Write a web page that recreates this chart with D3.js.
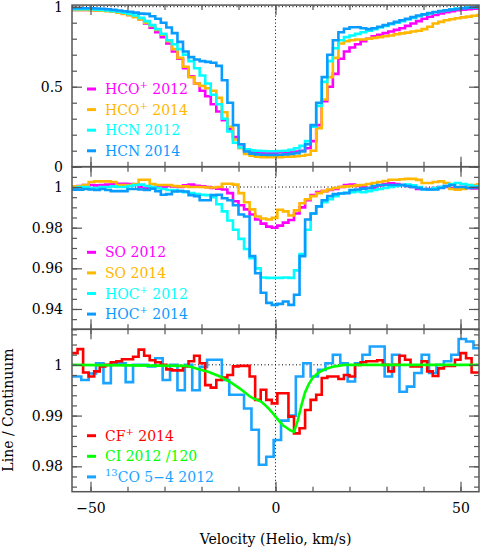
<!DOCTYPE html>
<html>
<head>
<meta charset="utf-8">
<script src="https://cdn.jsdelivr.net/npm/d3@7"></script>
<style>
  html, body { margin: 0; padding: 0; background: #fff; }
  svg { display: block; }
  text { font-family: "DejaVu Serif", serif; font-size: 14px; }
</style>
</head>
<body>
<svg id="chart" width="480" height="549"></svg>
<script>
// channel velocities (km/s), shared by the HCO+/HCN/SO/HOC+/CF+ spectra
const vel = [-55,-53.5,-52,-50.5,-49,-47.5,-46,-44.5,-43,-41.5,
  -40,-38.5,-37,-35.5,-34,-32.5,-31,-29.5,-28,-26.5,
  -25,-23.5,-22,-20.5,-19,-17.5,-16,-14.5,-13,-11.5,
  -10,-8.5,-7,-5.5,-4,-2.5,-1,0.5,2,3.5,
  5,6.5,8,9.5,11,12.5,14,15.5,17,18.5,
  20,21.5,23,24.5,26,27.5,29,30.5,32,33.5,
  35,36.5,38,39.5,41,42.5,44,45.5,47,48.5,
  50,51.5,53,54.5];

// top panel
const hco2012 = [0.979,0.979,0.979,0.979,0.978,0.977,0.975,0.972,0.965,0.957,
  0.948,0.937,0.922,0.895,0.868,0.84,0.81,0.77,0.72,0.675,
  0.615,0.565,0.52,0.475,0.44,0.39,0.345,0.29,0.235,0.185,
  0.14,0.105,0.09,0.085,0.085,0.087,0.088,0.09,0.09,0.092,
  0.095,0.1,0.115,0.16,0.26,0.41,0.5,0.58,0.675,0.72,
  0.745,0.765,0.785,0.8,0.815,0.825,0.835,0.845,0.855,0.865,
  0.88,0.895,0.91,0.925,0.937,0.948,0.958,0.965,0.972,0.978,
  0.982,0.985,0.988,0.99];
const hco2014 = [0.979,0.979,0.979,0.978,0.977,0.975,0.972,0.968,0.962,0.955,
  0.947,0.935,0.92,0.9,0.88,0.855,0.825,0.785,0.735,0.68,
  0.625,0.56,0.52,0.505,0.49,0.475,0.43,0.34,0.25,0.17,
  0.115,0.08,0.068,0.062,0.06,0.06,0.06,0.06,0.062,0.063,
  0.065,0.068,0.075,0.1,0.24,0.42,0.56,0.68,0.77,0.785,
  0.79,0.795,0.795,0.8,0.805,0.81,0.815,0.82,0.828,0.833,
  0.838,0.845,0.85,0.86,0.875,0.895,0.905,0.915,0.922,0.928,
  0.933,0.938,0.943,0.948];
const hcn2012 = [0.985,0.985,0.985,0.984,0.982,0.979,0.976,0.972,0.968,0.962,
  0.955,0.945,0.93,0.91,0.885,0.86,0.83,0.79,0.765,0.735,
  0.7,0.66,0.615,0.57,0.52,0.45,0.39,0.3,0.22,0.15,
  0.12,0.108,0.102,0.1,0.098,0.097,0.097,0.098,0.1,0.105,
  0.115,0.13,0.16,0.25,0.38,0.53,0.66,0.74,0.79,0.81,
  0.82,0.83,0.84,0.85,0.86,0.87,0.88,0.89,0.9,0.91,
  0.92,0.93,0.94,0.95,0.958,0.965,0.972,0.978,0.984,0.988,
  0.992,0.995,0.997,0.999];
const hcn2014 = [0.99,0.99,0.99,0.99,0.989,0.987,0.984,0.98,0.976,0.972,
  0.968,0.963,0.957,0.955,0.94,0.925,0.9,0.87,0.835,0.78,
  0.72,0.685,0.67,0.66,0.655,0.65,0.63,0.54,0.4,0.26,
  0.14,0.095,0.082,0.077,0.075,0.074,0.074,0.075,0.077,0.08,
  0.085,0.095,0.14,0.26,0.4,0.56,0.7,0.79,0.84,0.862,
  0.872,0.872,0.865,0.86,0.865,0.875,0.885,0.895,0.905,0.915,
  0.925,0.935,0.945,0.952,0.96,0.967,0.973,0.978,0.982,0.986,
  0.99,0.993,0.996,0.998];

// middle panel
const so2012 = [1.0003,1.0005,1.001,1.001,1.0008,1.001,1.0012,1.0015,1.0016,1.0016,
  1.0015,1.001,1.0,0.9995,1.0,1.0003,1.0,1.0005,1.0003,1.0,
  1.0008,1.0012,1.0006,1.0003,1.0,0.9995,0.9992,0.9988,0.997,0.993,
  0.991,0.989,0.9865,0.984,0.982,0.9805,0.98,0.981,0.9825,0.9838,
  0.987,0.99,0.9935,0.996,0.9975,0.998,0.9985,0.999,1.0,1.001,
  1.0012,1.0005,1.0,0.9995,0.9995,1.0008,1.0015,1.0018,1.0015,1.001,
  1.0005,1.0,0.999,0.9988,0.999,0.9995,1.0,1.0,0.9995,0.9998,
  1.0,0.9995,0.9993,0.9995];
const so2014 = [1.0003,1.0003,1.001,1.0025,1.0028,1.0028,1.0028,1.0025,1.001,1.001,
  1.001,1.0015,1.0036,1.0036,1.0015,1.001,1.001,1.001,1.0005,1.0003,
  1.0003,1.0,1.0,1.0,0.9998,0.9998,1.0,1.0016,1.0016,1.0012,
  0.997,0.9925,0.989,0.9855,0.9845,0.984,0.9848,0.9888,0.988,0.986,
  0.9885,0.992,0.994,0.9955,0.997,0.998,0.9988,0.9995,1.0,1.0003,
  1.0005,1.0008,1.001,1.0015,1.002,1.0025,1.003,1.0036,1.0036,1.0038,
  1.004,1.004,1.0035,1.002,1.002,1.0025,1.0028,1.002,0.999,0.9987,
  0.999,1.0005,1.001,1.0013];
const hoc2012 = [0.9995,1.0,1.0,0.9995,0.9995,1.0,1.0,1.0003,1.0,1.0,
  1.0005,1.001,1.0012,1.0005,1.0,0.9995,0.999,0.9985,0.9985,0.998,
  0.9975,0.997,0.9965,0.9962,0.996,0.995,0.9915,0.988,0.9835,0.979,
  0.9745,0.9695,0.965,0.96,0.9555,0.9553,0.9553,0.9553,0.9555,0.9553,
  0.959,0.967,0.979,0.987,0.9905,0.9925,0.994,0.9955,0.9968,0.9972,
  0.9975,0.9978,0.9975,0.998,0.9985,0.999,0.9995,1.0,1.0005,1.001,
  1.0012,1.0008,1.0,0.9988,0.9988,0.9995,1.0,1.0005,1.0015,1.002,
  1.0015,1.001,1.0005,1.0003];
const hoc2014 = [0.9987,0.9987,0.999,0.9988,0.9985,0.999,0.9985,0.998,0.998,0.998,
  0.999,0.999,0.9988,0.9985,0.9992,0.998,0.9962,0.9965,0.9978,0.998,
  0.9978,0.996,0.9955,0.9935,0.9935,0.996,0.9962,0.9945,0.9935,0.991,
  0.9865,0.9855,0.966,0.9576,0.948,0.943,0.942,0.9425,0.9437,0.942,
  0.947,0.966,0.984,0.987,0.9905,0.9935,0.9955,0.9965,0.9968,0.997,
  0.9985,0.9988,0.9992,0.9995,1.0005,1.001,1.001,1.001,1.001,1.001,
  1.0005,1.0,0.9995,0.999,0.9988,0.9988,0.9995,1.0005,1.001,1.0,
  1.0,0.9995,0.9998,0.9998];

// bottom panel
const cf2014 = [1.0023,1.0031,0.9985,0.9977,0.9987,0.9997,1.0,1.0005,1.0007,1.0011,
  1.0011,1.0016,1.003,1.0018,1.0009,1.0005,1.0,0.9991,0.9989,0.9989,
  0.9997,1.0007,1.0018,1.0003,0.996,0.9955,0.997,0.9975,0.998,0.9997,
  0.9998,0.9998,0.9977,0.9931,0.9951,0.9931,0.9924,0.9944,0.9944,0.9898,
  0.9865,0.9875,0.9911,0.9931,0.9941,0.9974,0.9977,0.9977,0.9972,0.998,
  0.9977,1.0,1.0005,1.0007,1.0007,1.0009,1.0,0.9987,1.0,1.0018,
  1.001,0.9997,0.9997,1.0007,0.9987,0.9978,0.9993,0.9998,0.9998,1.001,
  1.0023,1.0013,0.9985,0.9985];
const ciVel = [-55,-24,-23,-22,-21,-20,-19,-18,-17,-16,-15,-14,-13,-12,-11,-10,-9,-8,-7,-6,
  -5,-4,-3,-2,-1,0,1,2,3,4,5,6,7,8,9,10,11,12,13,14,15,16,17,18,19,55];
const ci2012 = [1.0,0.9998,0.9996,0.9994,0.9992,0.999,0.9988,0.9986,0.9983,0.998,0.9977,0.9973,0.9969,0.9965,0.996,0.9955,0.995,0.9944,0.9938,0.9934,
  0.9931,0.9928,0.9922,0.9915,0.9907,0.9898,0.9889,0.9881,0.9876,0.9871,0.9868,0.989,0.992,0.9946,0.9962,0.9974,0.9981,0.9986,0.999,0.9993,0.9995,0.9997,0.9998,0.9999,1.0,1.0];
const co13Vel = [-55,-54.5,-52.5,-50.5,-48.5,-46.5,-44.5,-42.5,-40.5,-38.5,-36.5,-34.5,-32.5,-30.5,
  -28.5,-26.5,-24.5,-22.5,-20.5,-18.5,-16.5,-14.5,-12.5,-10.5,-8.5,-6.5,-4.5,-2.5,-0.5,
  1.5,3.5,5.5,7.5,9.5,11.5,13.5,15.5,17.5,19.5,21.5,23.5,25.5,27.5,29.5,31.5,33.5,
  35.5,37.5,39.5,41.5,43.5,45.5,47.5,49.5,51.5,53.5];
const co13 = [0.9977,0.9977,0.997,0.9983,1.0003,0.9964,1.0003,1.0003,0.9966,1.0,1.0,0.9997,1.0013,0.997,
  1.0,0.995,1.0,0.995,0.9996,1.001,1.001,0.997,0.9941,0.9941,0.9914,0.9872,0.9803,0.9819,0.9852,
  0.989,0.99,0.9977,1.0003,0.9977,0.999,1.0003,1.002,1.0003,0.9967,1.0003,1.002,1.0036,1.0036,0.9977,1.002,0.9947,
  0.9957,0.9984,1.002,0.9984,1.0,1.0007,1.002,1.0051,1.0046,1.0033];

// legend labels: [text, superscript, text]
const labels1 = [["HCO","+"," 2012"],["HCO","+"," 2014"],["HCN","",  " 2012"],["HCN",""," 2014"]];
const labels2 = [["SO",""," 2012"],["SO",""," 2014"],["HOC","+"," 2012"],["HOC","+"," 2014"]];
const labels3 = [["CF","+"," 2014"],["CI",""," 2012 /120"],["","13","CO 5\u22124 2012"]];

const xTicksMajor = [-50, 0, 50];
const yTicks1 = [0, 0.5, 1];
const yTicks2 = [0.94, 0.96, 0.98, 1];
const yTicks3 = [0.98, 0.99, 1];

const colors1 = ["#ff00ff", "#ffb700", "#00ffff", "#0a9bff"];
const colors3 = ["#ff0000", "#00ff00", "#1aa3ff"];

const svg = d3.select("#chart");
const L = 72, R = 479;
const x = d3.scaleLinear().domain([-55, 55]).range([L, R]);

const panels = [
  { top: 5.1, bottom: 166.7, domain: [0, 1.01], major: yTicks1, minor: d3.range(0, 1.01, 0.1),
    series: [hco2012, hco2014, hcn2012, hcn2014].map((s, i) => ({ v: vel, y: s, c: colors1[i], step: true })),
    labels: labels1, colors: colors1, legendY: 89 },
  { top: 166.7, bottom: 329.3, domain: [0.93, 1.01], major: yTicks2, minor: d3.range(0.93, 1.0101, 0.005),
    series: [so2012, so2014, hoc2012, hoc2014].map((s, i) => ({ v: vel, y: s, c: colors1[i], step: true })),
    labels: labels2, colors: colors1, legendY: 252.3 },
  { top: 329.3, bottom: 491.7, domain: [0.975, 1.007], major: yTicks3, minor: d3.range(0.976, 1.0071, 0.002),
    series: [
      { v: co13Vel, y: co13, c: colors3[2], step: true },
      { v: vel, y: cf2014, c: colors3[0], step: true },
      { v: ciVel, y: ci2012, c: colors3[1], step: false }
    ],
    labels: labels3, colors: colors3, legendY: 435.7 }
];

const frameColor = "#555";

panels.forEach((p, pi) => {
  const y = d3.scaleLinear().domain(p.domain).range([p.bottom, p.top]);
  const g = svg.append("g");

  g.append("clipPath").attr("id", "clip" + pi)
    .append("rect").attr("x", L).attr("y", p.top).attr("width", R - L).attr("height", p.bottom - p.top);

  // dotted reference lines
  g.append("line").attr("x1", L).attr("x2", R).attr("y1", y(1)).attr("y2", y(1))
    .attr("stroke", "#000").attr("stroke-width", 1).attr("stroke-dasharray", "1,2.5");
  g.append("line").attr("x1", x(0)).attr("x2", x(0)).attr("y1", p.top).attr("y2", p.bottom)
    .attr("stroke", "#000").attr("stroke-width", 1).attr("stroke-dasharray", "1,2.5");

  const plot = g.append("g").attr("clip-path", "url(#clip" + pi + ")");
  p.series.forEach(s => {
    const pts = s.v.map((v, i) => [v, s.y[i]]);
    if (s.step) pts.push([55, s.y[s.y.length - 1]]);
    const line = d3.line()
      .x(d => x(d[0])).y(d => y(d[1]))
      .curve(s.step ? d3.curveStepAfter : d3.curveLinear);
    plot.append("path").attr("d", line(pts))
      .attr("fill", "none").attr("stroke", s.c).attr("stroke-width", 2.6)
      .attr("stroke-linejoin", "miter");
  });

  // legend
  p.labels.forEach((lab, i) => {
    const ly = p.legendY + i * 20.6;
    g.append("line").attr("x1", 87).attr("x2", 96).attr("y1", ly).attr("y2", ly)
      .attr("stroke", p.colors[i]).attr("stroke-width", 3);
    const t = g.append("text").attr("x", 105).attr("y", ly + 5).attr("fill", p.colors[i]);
    if (lab[0]) t.append("tspan").text(lab[0]);
    if (lab[1]) t.append("tspan").attr("dy", -6).attr("font-size", "10px").text(lab[1]);
    t.append("tspan").attr("dy", lab[1] ? 6 : 0).text(lab[2]);
  });

  // ticks on all four sides, pointing inward
  const styleAxis = a => {
    a.select(".domain").remove();
    a.selectAll(".tick line").attr("stroke", frameColor).attr("stroke-width", 1.2);
    a.selectAll("text").attr("font-family", "DejaVu Serif").attr("font-size", 14).attr("fill", "#000");
  };
  g.append("g").attr("transform", `translate(${L},0)`)
    .call(d3.axisLeft(y).tickValues(p.minor).tickSize(-5).tickFormat("")).call(styleAxis);
  g.append("g").attr("transform", `translate(${L},0)`)
    .call(d3.axisLeft(y).tickValues(p.major).tickSize(-10).tickPadding(9).tickFormat(d3.format("~g"))).call(styleAxis);
  g.append("g").attr("transform", `translate(${R},0)`)
    .call(d3.axisRight(y).tickValues(p.minor).tickSize(-5).tickFormat("")).call(styleAxis);
  g.append("g").attr("transform", `translate(${R},0)`)
    .call(d3.axisRight(y).tickValues(p.major).tickSize(-10).tickFormat("")).call(styleAxis);

  const xMinor = d3.range(-50, 51, 10);
  g.append("g").attr("transform", `translate(0,${p.top})`)
    .call(d3.axisTop(x).tickValues(xMinor).tickSize(-5).tickFormat("")).call(styleAxis);
  g.append("g").attr("transform", `translate(0,${p.top})`)
    .call(d3.axisTop(x).tickValues(xTicksMajor).tickSize(-10).tickFormat("")).call(styleAxis);
  g.append("g").attr("transform", `translate(0,${p.bottom})`)
    .call(d3.axisBottom(x).tickValues(xMinor).tickSize(-5).tickFormat("")).call(styleAxis);
  g.append("g").attr("transform", `translate(0,${p.bottom})`)
    .call(d3.axisBottom(x).tickValues(xTicksMajor).tickSize(-10).tickPadding(11)
      .tickFormat(pi === 2 ? d3.format("d") : "")).call(styleAxis);

  g.append("rect").attr("x", L).attr("y", p.top).attr("width", R - L).attr("height", p.bottom - p.top)
    .attr("fill", "none").attr("stroke", frameColor).attr("stroke-width", 1.5);
});

svg.append("text").attr("x", x(0)).attr("y", 544).attr("text-anchor", "middle")
  .text("Velocity (Helio, km/s)");
svg.append("text").attr("transform", "translate(13,410) rotate(-90)").attr("text-anchor", "middle")
  .text("Line / Continuum");
</script>
</body>
</html>
